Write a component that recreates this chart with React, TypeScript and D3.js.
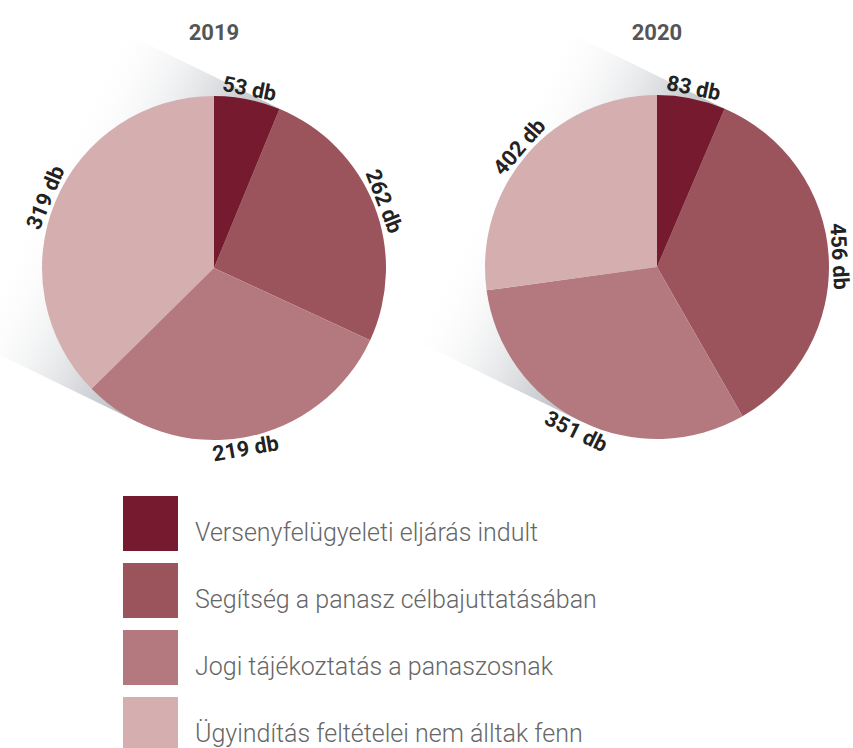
import React from "react";
import * as d3 from "d3";

const categories = [
  "Versenyfelügyeleti eljárás indult",
  "Segítség a panasz célbajuttatásában",
  "Jogi tájékoztatás a panaszosnak",
  "Ügyindítás feltételei nem álltak fenn",
];
const colors = ["#761a30", "#9b545b", "#b3797e", "#d5afb0"];
const years = ["2019", "2020"];
// slice sizes as drawn in the picture (clockwise from 12 o'clock)
const slices2019 = [53, 219, 262, 319];
const slices2020 = [83, 456, 402, 351];
// value labels as printed on each slice
const labels2019 = ["53 db", "262 db", "219 db", "319 db"];
const labels2020 = ["83 db", "456 db", "351 db", "402 db"];

const W = 853;
const H = 748;
const R = 172;
const centers = [
  [214, 268],
  [657, 267],
];
const shadowAngle = 206; // degrees, direction of the long shadow

function Pie({ idx, values, labels }: { idx: number; values: number[]; labels: string[] }) {
  const [cx, cy] = centers[idx];
  const pie = d3.pie<number>().sort(null).value((d) => d)(values);
  const arc = d3.arc<d3.PieArcDatum<number>>().innerRadius(0).outerRadius(R);
  const LR = 183;
  return (
    <g transform={`translate(${cx},${cy})`}>
      <g transform={`rotate(${shadowAngle})`}>
        <rect x={0} y={-R} width={240} height={2 * R} fill="url(#shadowGrad)" />
      </g>
      {pie.map((p, i) => (
        <path key={i} d={arc(p) || ""} fill={colors[i]} />
      ))}
      {pie.map((p, i) => {
        const mid = (p.startAngle + p.endAngle) / 2;
        const deg = (mid * 180) / Math.PI;
        const x = Math.sin(mid) * LR;
        const y = -Math.cos(mid) * LR;
        let rot = deg;
        if (deg > 90 && deg < 270) rot = deg - 180;
        else if (deg >= 270) rot = deg - 360;
        return (
          <text
            key={"l" + i}
            transform={`translate(${x},${y}) rotate(${rot})`}
            textAnchor="middle"
            dominantBaseline="central"
            fontFamily="Roboto, sans-serif"
            fontWeight={700}
            fontSize={21.5}
            fill="#222"
          >
            {labels[i]}
          </text>
        );
      })}
      <text
        x={0}
        y={-cy + 40}
        textAnchor="middle"
        fontFamily="Roboto, sans-serif"
        fontWeight={700}
        fontSize={22}
        fill="#555"
      >
        {years[idx]}
      </text>
    </g>
  );
}

export default function App() {
  const legendY = d3.scaleBand<number>().domain(d3.range(categories.length)).range([496, 496 + 67 * 4]);
  return (
    <svg
      width={W}
      height={H}
      viewBox={`0 0 ${W} ${H}`}
      style={{ position: "absolute", left: 0, top: 0, background: "#fff" }}
    >
      <defs>
        <linearGradient id="shadowGrad" x1="0" y1="0" x2="1" y2="0">
          <stop offset="0" stopColor="#a8adb2" stopOpacity={0.95} />
          <stop offset="0.3" stopColor="#c9ccd0" stopOpacity={0.7} />
          <stop offset="0.8" stopColor="#ffffff" stopOpacity={0} />
        </linearGradient>
      </defs>
      <rect width={W} height={H} fill="#fff" />
      <Pie idx={0} values={slices2019} labels={labels2019} />
      <Pie idx={1} values={slices2020} labels={labels2020} />
      {categories.map((c, i) => (
        <g key={c} transform={`translate(123,${legendY(i)})`}>
          <rect width={55} height={55} fill={colors[i]} />
          <text
            x={72}
            y={45}
            fontFamily="Roboto, sans-serif"
            fontWeight={300}
            fontSize={25}
            fill="#666"
          >
            {c}
          </text>
        </g>
      ))}
    </svg>
  );
}
